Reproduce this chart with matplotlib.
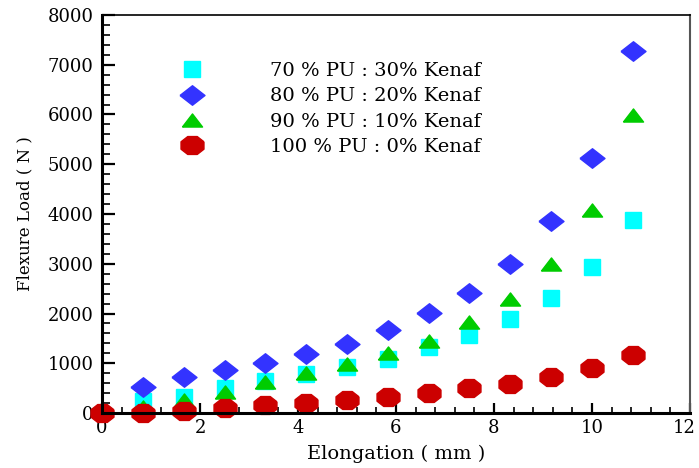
import numpy as np
import matplotlib
matplotlib.use('Agg')
import matplotlib.pyplot as plt
from matplotlib.path import Path
from matplotlib.ticker import MultipleLocator
from matplotlib.transforms import ScaledTranslation

plt.rcParams['font.family'] = ['DejaVu Serif']

# 伸长量 (mm)
elong = [0.83, 1.67, 2.5, 3.33, 4.17, 5.0, 5.83, 6.67, 7.5, 8.33, 9.17, 10.0, 10.83]
elong_pu = [0.0] + elong

# 各配比的弯曲载荷 (N)
load_70 = [235, 330, 496, 650, 784, 930, 1085, 1320, 1568, 1896, 2311, 2929, 3880]
load_80 = [529, 717, 864, 1011, 1180, 1390, 1668, 2004, 2418, 2989, 3859, 5132, 7283]
load_90 = [130, 260, 428, 630, 810, 990, 1200, 1453, 1829, 2298, 3001, 4090, 5990]
load_100 = [0, 10, 40, 107, 160, 207, 261, 328, 402, 503, 583, 724, 905, 1166]

labels = ['70 % PU : 30% Kenaf', '80 % PU : 20% Kenaf',
          '90 % PU : 10% Kenaf', '100 % PU : 0% Kenaf']

# 压扁的菱形、三角形、八边形
diamond = Path([(-1, 0), (0, 0.78), (1, 0), (0, -0.78), (-1, 0)])
tri = Path([(-1, -0.65), (1, -0.65), (0, 0.65), (-1, -0.65)])
ang = np.deg2rad(np.arange(8) * 45 + 22.5)
octo = Path(np.column_stack([np.cos(ang), 0.78 * np.sin(ang)]).tolist() + [[np.cos(ang[0]), 0.78 * np.sin(ang[0])]])

fig = plt.figure(figsize=(6.99, 4.68), dpi=100)
ax = fig.add_axes([0.146, 0.1175, 0.841, 0.8505])

h1, = ax.plot(elong, load_70, ls='none', marker='s', ms=11, color='#00FFFF', clip_on=False)
h2, = ax.plot(elong, load_80, ls='none', marker=diamond, ms=18, color='#3333FF', clip_on=False)
h3, = ax.plot(elong, load_90, ls='none', marker=tri, ms=14.5, color='#00CC00', clip_on=False)
h4, = ax.plot(elong_pu, load_100, ls='none', marker=octo, ms=16.5, color='#CC0000', clip_on=False)

ax.set_xlim(0, 12)
ax.set_ylim(0, 8000)
ax.xaxis.set_major_locator(MultipleLocator(2))
ax.xaxis.set_minor_locator(MultipleLocator(0.4))
ax.yaxis.set_major_locator(MultipleLocator(1000))
ax.yaxis.set_minor_locator(MultipleLocator(200))

ax.tick_params(axis='both', which='both', direction='in', top=False, right=False, labelsize=13)
ax.tick_params(axis='x', which='major', length=7, width=1.6, pad=4)
ax.tick_params(axis='x', which='minor', length=4, width=1.2)
ax.tick_params(axis='y', which='major', length=9, width=1.6, pad=6)
ax.tick_params(axis='y', which='minor', length=5.5, width=1.2)

ax.spines['left'].set_linewidth(2.2)
ax.spines['bottom'].set_linewidth(2.2)
ax.spines['top'].set_linewidth(1.2)
ax.spines['right'].set_linewidth(1.5)
ax.spines['right'].set_color('#555555')

ax.set_xlabel('Elongation ( mm )', fontsize=14, labelpad=6)
ax.set_ylabel('Flexure Load ( N )', fontsize=12, labelpad=10)

ax.legend([h1, h2, h3, h4], labels, loc='upper left', bbox_to_anchor=(0.133, 0.882),
          frameon=False, fontsize=14, handlelength=1.2, handletextpad=3.44,
          labelspacing=0.38, borderpad=0, borderaxespad=0)

# 最右边的刻度 "12" 稍微左移，免得出界
fig.canvas.draw()
for t in ax.xaxis.get_major_ticks():
    if abs(t.get_loc() - 12) < 1e-6:
        t.label1.set_transform(t.label1.get_transform() + ScaledTranslation(-4 / 72, 0, fig.dpi_scale_trans))

plt.savefig('out.png', dpi=100)
